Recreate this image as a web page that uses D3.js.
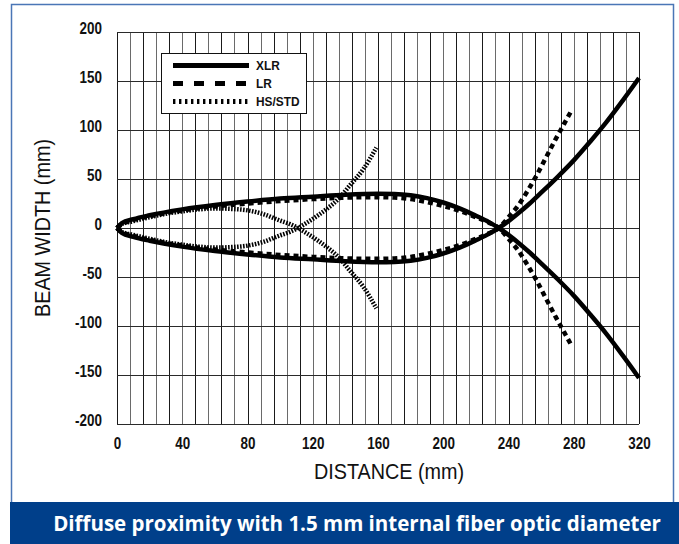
<!DOCTYPE html>
<html>
<head>
<meta charset="utf-8">
<script src="https://cdn.jsdelivr.net/npm/d3@7"></script>
<style>
  html, body { margin: 0; padding: 0; background: #fff; }
  svg { display: block; }
</style>
</head>
<body>
<script>
// ---- data (upper branch; lower branch is the mirror image) ----
const xlrX = [0, 3, 10, 20, 40, 60, 80, 100, 120, 140, 160, 170, 180, 190, 200, 210, 220, 228, 234, 240, 246, 253, 260, 270, 280, 290, 300, 310, 320];
const xlrY = [0, 5, 9, 13, 19, 23.5, 27, 30, 32, 34, 35, 34.8, 33.5, 30.5, 26, 20, 12.5, 6, 0, -7, -15, -25, -36, -52, -69, -88, -108, -130, -153];

const lrX = [0, 3, 10, 20, 40, 60, 80, 100, 120, 140, 160, 170, 180, 190, 200, 210, 220, 228, 234, 240, 246, 251, 257, 263, 269, 274, 279];
const lrY = [0, 4, 8, 12, 18, 22, 25, 27.5, 29.5, 31, 31.5, 31, 29.5, 26.5, 22.5, 17.5, 11, 5.5, 0, -11, -23, -36, -53, -72, -91, -106, -121];

const hsX = [0, 3, 10, 20, 30, 40, 50, 60, 70, 80, 90, 100, 106, 111, 116, 122, 129, 136, 143, 151, 159];
const hsY = [0, 4, 7, 11, 14.5, 17, 19, 20, 19.5, 18, 14, 7.5, 4, 0, -5, -11.5, -20, -30, -44, -60, -82];

const xTicks = [0, 40, 80, 120, 160, 200, 240, 280, 320];
const yTicks = [200, 150, 100, 50, 0, -50, -100, -150, -200];
const xGridStep = 8;

const seriesNames = ["XLR", "LR", "HS/STD"];
const xTitle = "DISTANCE (mm)";
const yTitle = "BEAM WIDTH (mm)";
const caption = "Diffuse proximity with 1.5 mm internal fiber optic diameter";

// ---- layout ----
const W = 679, H = 544;
const plot = { left: 117, right: 639, top: 32, bottom: 424 };

const svg = d3.select("body").append("svg").attr("width", W).attr("height", H);

// outer frame
svg.append("rect").attr("x", 11.5).attr("y", 4.5).attr("width", 662).attr("height", 500)
  .attr("fill", "none").attr("stroke", "#4a76b6").attr("stroke-width", 1.5);
// caption bar
svg.append("rect").attr("x", 10).attr("y", 502).attr("width", W - 10).attr("height", H - 502)
  .attr("fill", "#003f8a");
svg.append("text").attr("x", 357).attr("y", 531).attr("text-anchor", "middle")
  .attr("font-family", "'Open Sans', 'Noto Sans', sans-serif").attr("font-weight", "bold")
  .attr("font-size", 20.5).attr("fill", "#fff").text(caption);

const x = d3.scaleLinear().domain([0, 320]).range([plot.left, plot.right]);
const y = d3.scaleLinear().domain([-200, 200]).range([plot.bottom, plot.top]);

// grid
const g = svg.append("g");
g.selectAll("line.v").data(d3.range(0, 320 + 0.001, xGridStep)).join("line")
  .attr("x1", d => Math.round(x(d)) + 0.5).attr("x2", d => Math.round(x(d)) + 0.5)
  .attr("y1", plot.top).attr("y2", plot.bottom)
  .attr("stroke", (d, i) => i % 2 ? "#6a6a6a" : "#1a1a1a").attr("stroke-width", 1);
g.selectAll("line.h").data(yTicks).join("line")
  .attr("x1", plot.left).attr("x2", plot.right)
  .attr("y1", d => Math.round(y(d)) + 0.5).attr("y2", d => Math.round(y(d)) + 0.5)
  .attr("stroke", "#2a2a2a").attr("stroke-width", 1);

// axes labels via d3 axes (no domain/ticks lines)
const labelFont = "'Liberation Sans', Arial, sans-serif";
const fmt = d => String(d);
const xAxis = svg.append("g").attr("transform", `translate(0,${plot.bottom})`)
  .call(d3.axisBottom(x).tickValues(xTicks).tickSize(0).tickPadding(11).tickFormat(fmt));
const yAxis = svg.append("g").attr("transform", `translate(${plot.left},0)`)
  .call(d3.axisLeft(y).tickValues(yTicks).tickSize(0).tickPadding(15).tickFormat(fmt));
[xAxis, yAxis].forEach(a => {
  a.select(".domain").remove();
  a.selectAll("text").attr("font-family", labelFont).attr("font-weight", "bold")
    .attr("font-size", 16).attr("fill", "#111");
});
xAxis.selectAll("text").attr("dy", "0.85em").attr("transform", "scale(0.84,1)");
yAxis.selectAll("text").attr("dy", "0.12em").attr("x", -18).attr("transform", "scale(0.84,1)");

svg.append("text").attr("x", 389).attr("y", 479).attr("text-anchor", "middle")
  .attr("font-family", "'Liberation Sans', Arial, sans-serif").attr("font-size", 22).attr("fill", "#111")
  .attr("transform", "translate(389,0) scale(0.9,1) translate(-389,0)")
  .text(xTitle);
svg.append("text").attr("transform", "translate(50,228) rotate(-90) scale(0.9,1)").attr("text-anchor", "middle")
  .attr("font-family", "'Liberation Sans', Arial, sans-serif").attr("font-size", 22).attr("fill", "#111")
  .text(yTitle);

// curves
const line = d3.line().x(d => x(d[0])).y(d => y(d[1])).curve(d3.curveMonotoneX);
const styles = [
  { xs: xlrX, ys: xlrY, dash: null, w: 4.5 },
  { xs: lrX, ys: lrY, dash: "5,4", w: 4.5 },
  { xs: hsX, ys: hsY, dash: "1.6,1.4", w: 4.5 }
];
const curves = svg.append("g");
styles.forEach(s => {
  const up = s.xs.map((v, i) => [v, s.ys[i]]);
  const down = s.xs.map((v, i) => [v, -s.ys[i]]);
  [up, down].forEach(pts => {
    curves.append("path").attr("d", line(pts)).attr("fill", "none")
      .attr("stroke", "#000").attr("stroke-width", s.w)
      .attr("stroke-dasharray", s.dash);
  });
});

// legend
const lg = svg.append("g");
lg.append("rect").attr("x", 161.5).attr("y", 53.5).attr("width", 145).attr("height", 60)
  .attr("fill", "#fff").attr("stroke", "#111").attr("stroke-width", 1);
const legDash = [null, "10,11", "2.4,3.6"];
seriesNames.forEach((n, i) => {
  const yy = 65.5 + i * 18;
  lg.append("line").attr("x1", 173).attr("x2", 249).attr("y1", yy).attr("y2", yy)
    .attr("stroke", "#000").attr("stroke-width", 5).attr("stroke-dasharray", legDash[i]);
  lg.append("text").attr("x", 256 / 0.88).attr("y", yy + 4.5)
    .attr("transform", "scale(0.88,1)")
    .attr("font-family", labelFont).attr("font-weight", "bold").attr("font-size", 13.5)
    .attr("fill", "#111").text(n);
});
</script>
</body>
</html>
